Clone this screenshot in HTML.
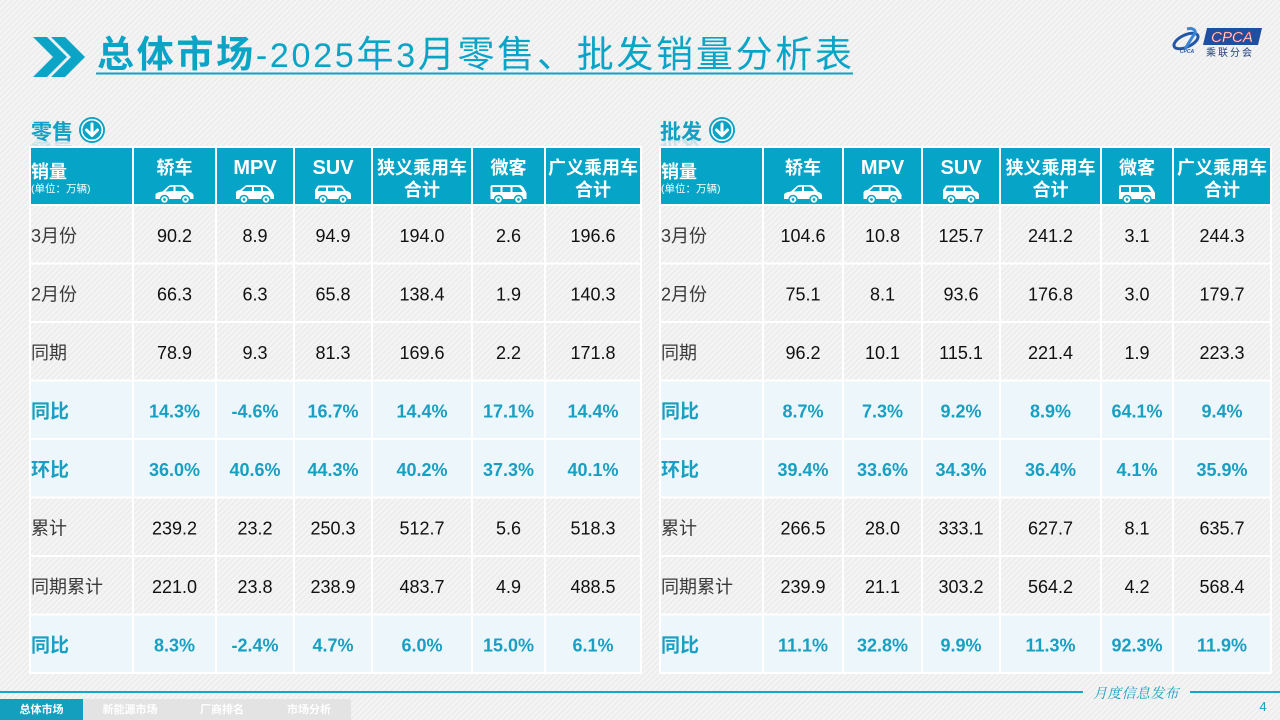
<!DOCTYPE html>
<html><head><meta charset="utf-8"><style>
html,body{margin:0;padding:0;width:1280px;height:720px;overflow:hidden;background:#f3f3f3;}
svg{display:block;}
text{font-family:"Liberation Sans","Noto Sans CJK SC",sans-serif;}
.n{font-size:18px;fill:#111;text-anchor:middle;}
.lb{font-size:18px;fill:#3a3a3a;}
.hn{font-size:18px;fill:#199fc2;font-weight:bold;text-anchor:middle;}
.hl{font-size:19px;fill:#199fc2;font-weight:bold;}
.hc{font-size:18px;fill:#fff;font-weight:bold;text-anchor:middle;}
.he{font-size:20px;fill:#fff;font-weight:bold;text-anchor:middle;}
.tab{font-size:11px;fill:#fff;font-weight:bold;text-anchor:middle;}
</style></head><body>
<svg width="1280" height="720" viewBox="0 0 1280 720" xmlns="http://www.w3.org/2000/svg">
<defs>
<pattern id="bg" width="4" height="4" patternUnits="userSpaceOnUse" patternTransform="rotate(45)">
<rect width="4" height="4" fill="#f4f4f4"/><rect width="1.4" height="4" fill="#ebebeb"/>
</pattern>
<g id="sedan"><path d="M1,15 L1,11 C1,9 4,8 8,7.5 L14,2 C15,1.3 17,1 19,1 L27,1 C30,1 32,4 35,8 C38,8.5 39,10 39,12 L39,15 Z" fill="#fff"/><path d="M15,3 L19,2.6 L19,7 L11,7.5 Z M21,2.6 L26,2.6 C28,3 30,5 31,7 L21,7 Z" fill="#06a5c7"/><circle cx="10" cy="15.5" r="4" fill="#fff" stroke="#06a5c7" stroke-width="1.5"/><circle cx="31" cy="15.5" r="4" fill="#fff" stroke="#06a5c7" stroke-width="1.5"/><circle cx="10" cy="15.5" r="1.4" fill="#06a5c7"/><circle cx="31" cy="15.5" r="1.4" fill="#06a5c7"/></g>
<g id="mpv"><path d="M1,15 L1,9 C1,7 3,6 5,6 L10,2 C11,1 12,1 14,1 L28,1 C32,1 36,5 38,9 L39,11 L39,15 Z" fill="#fff"/><path d="M11,3 L17,3 L17,7 L7,7 Z M19,3 L26,3 L26,7 L19,7 Z M28,3 C31,3 33,5 34,7 L28,7 Z" fill="#06a5c7"/><circle cx="9" cy="15.5" r="4" fill="#fff" stroke="#06a5c7" stroke-width="1.5"/><circle cx="31" cy="15.5" r="4" fill="#fff" stroke="#06a5c7" stroke-width="1.5"/><circle cx="9" cy="15.5" r="1.4" fill="#06a5c7"/><circle cx="31" cy="15.5" r="1.4" fill="#06a5c7"/></g>
<g id="suv"><path d="M2,15 L2,6 L5,1.5 L29,1.5 L33,7 C36,7 38,9 38,11 L38,15 Z" fill="#fff"/><path d="M6,3.5 L13,3.5 L13,7 L4.5,7 Z M15,3.5 L22,3.5 L22,7 L15,7 Z M24,3.5 L28,3.5 L31,7 L24,7 Z" fill="#06a5c7"/><circle cx="10" cy="15.5" r="4" fill="#fff" stroke="#06a5c7" stroke-width="1.5"/><circle cx="30" cy="15.5" r="4" fill="#fff" stroke="#06a5c7" stroke-width="1.5"/><circle cx="10" cy="15.5" r="1.4" fill="#06a5c7"/><circle cx="30" cy="15.5" r="1.4" fill="#06a5c7"/></g>
<g id="van"><path d="M2,15 L2,3 C2,1.5 3,1 5,1 L31,1 C34,1 36,5 38,9 L38,15 Z" fill="#fff"/><path d="M4,3 L12,3 L12,8 L4,8 Z M14,3 L22,3 L22,8 L14,8 Z M24,3 L30,3 C32,4 33,6 34,8 L24,8 Z" fill="#06a5c7"/><circle cx="10" cy="15.5" r="4" fill="#fff" stroke="#06a5c7" stroke-width="1.5"/><circle cx="30" cy="15.5" r="4" fill="#fff" stroke="#06a5c7" stroke-width="1.5"/><circle cx="10" cy="15.5" r="1.4" fill="#06a5c7"/><circle cx="30" cy="15.5" r="1.4" fill="#06a5c7"/></g>
<g id="arrow"><circle r="13" fill="#0aa3c6"/><circle r="10.3" fill="none" stroke="#fff" stroke-width="1.6"/><path d="M0,-6 L0,5 M-5.5,0 L0,5.5 L5.5,0" stroke="#fff" stroke-width="3" fill="none" stroke-linecap="round" stroke-linejoin="round"/></g>
<clipPath id="rf1"><rect x="0" y="139" width="1280" height="8"/></clipPath>
</defs>
<rect width="1280" height="720" fill="url(#bg)"/>

<!-- Title -->
<polygon points="33,37 47,37 67,57 47,77 33,77 53,57" fill="#0aa4c6"/>
<polygon points="51,37 65,37 85,57 65,77 51,77 71,57" fill="#0aa4c6"/>
<text x="97" y="67" fill="#0aa4c6" textLength="755" lengthAdjust="spacing"><tspan font-weight="bold" font-size="37">总体市场</tspan><tspan font-size="34">-2025</tspan><tspan font-size="37">年</tspan><tspan font-size="34">3</tspan><tspan font-size="37">月零售、批发销量分析表</tspan></text>
<rect x="96" y="72.5" width="757" height="2" fill="#0aa4c6"/>

<!-- Logo -->
<ellipse cx="1186" cy="41" rx="13" ry="6" transform="rotate(-25 1186 41)" fill="none" stroke="#2456a8" stroke-width="3"/>
<path d="M1187,29 C1194,27 1198,32 1193,36 L1185,49" stroke="#3a86d6" stroke-width="3" fill="none"/>
<text x="1187" y="53" font-size="5" font-style="italic" font-weight="bold" fill="#2456a8" text-anchor="middle">CPCA</text>
<polygon points="1207,28 1262,28 1258,45 1203,45" fill="#1f4fa0"/>
<text x="1232" y="42" font-size="15" font-style="italic" fill="#fff" stroke="#e04040" stroke-width="0.5" text-anchor="middle">CPCA</text>
<text x="1230" y="56" font-size="10" fill="#1f3f80" text-anchor="middle" letter-spacing="2">乘联分会</text>

<!-- Section labels -->
<text x="31" y="139" font-size="21" font-weight="bold" fill="#12a0c4">零售</text>
<g clip-path="url(#rf1)"><text x="31" y="139" font-size="21" font-weight="bold" fill="#12a0c4" opacity="0.18" transform="translate(0,278) scale(1,-1)">零售</text></g>
<use href="#arrow" x="92" y="130"/>
<text x="660" y="139" font-size="21" font-weight="bold" fill="#12a0c4">批发</text>
<g clip-path="url(#rf1)"><text x="660" y="139" font-size="21" font-weight="bold" fill="#12a0c4" opacity="0.18" transform="translate(0,278) scale(1,-1)">批发</text></g>
<use href="#arrow" x="722" y="130"/>

<!-- LEFT TABLE -->
<rect x="29" y="146" width="613" height="528" fill="#fff"/>
<g fill="#06a5c7">
<rect x="31" y="148" width="101" height="56"/><rect x="134" y="148" width="81" height="56"/><rect x="217" y="148" width="76" height="56"/><rect x="295" y="148" width="76" height="56"/><rect x="373" y="148" width="98" height="56"/><rect x="473" y="148" width="71" height="56"/><rect x="546" y="148" width="94" height="56"/>
</g>
<g fill="url(#bg)">
<rect x="31" y="206" width="609" height="56.5"/><rect x="31" y="264.5" width="609" height="56.5"/><rect x="31" y="323" width="609" height="56.5"/><rect x="31" y="498.5" width="609" height="56.5"/><rect x="31" y="557" width="609" height="56.5"/>
</g>
<g fill="#edf6fa">
<rect x="31" y="381.5" width="609" height="56.5"/><rect x="31" y="440" width="609" height="56.5"/><rect x="31" y="615.5" width="609" height="56.5"/>
</g>
<g fill="#fff">
<rect x="132" y="206" width="2" height="466"/><rect x="215" y="206" width="2" height="466"/><rect x="293" y="206" width="2" height="466"/><rect x="371" y="206" width="2" height="466"/><rect x="471" y="206" width="2" height="466"/><rect x="544" y="206" width="2" height="466"/>
<rect x="31" y="262.5" width="609" height="2"/><rect x="31" y="321" width="609" height="2"/><rect x="31" y="379.5" width="609" height="2"/><rect x="31" y="438" width="609" height="2"/><rect x="31" y="496.5" width="609" height="2"/><rect x="31" y="555" width="609" height="2"/><rect x="31" y="613.5" width="609" height="2"/>
</g>
<text x="31" y="178" font-size="18" font-weight="bold" fill="#fff">销量</text>
<text x="31" y="192" font-size="10.5" fill="#fff">(单位：万辆)</text>
<text class="hc" x="174.5" y="174">轿车</text><use href="#sedan" x="154.5" y="184"/>
<text class="he" x="255" y="174">MPV</text><use href="#mpv" x="235" y="184"/>
<text class="he" x="333" y="174">SUV</text><use href="#suv" x="313" y="184"/>
<text class="hc" x="422" y="174">狭义乘用车</text><text class="hc" x="422" y="196">合计</text>
<text class="hc" x="508.5" y="174">微客</text><use href="#van" x="488.5" y="184"/>
<text class="hc" x="593" y="174">广义乘用车</text><text class="hc" x="593" y="196">合计</text>

<text class="lb" x="31" y="242">3月份</text>
<text class="n" x="174.5" y="242">90.2</text><text class="n" x="255" y="242">8.9</text><text class="n" x="333" y="242">94.9</text><text class="n" x="422" y="242">194.0</text><text class="n" x="508.5" y="242">2.6</text><text class="n" x="593" y="242">196.6</text>
<text class="lb" x="31" y="300.5">2月份</text>
<text class="n" x="174.5" y="300.5">66.3</text><text class="n" x="255" y="300.5">6.3</text><text class="n" x="333" y="300.5">65.8</text><text class="n" x="422" y="300.5">138.4</text><text class="n" x="508.5" y="300.5">1.9</text><text class="n" x="593" y="300.5">140.3</text>
<text class="lb" x="31" y="359">同期</text>
<text class="n" x="174.5" y="359">78.9</text><text class="n" x="255" y="359">9.3</text><text class="n" x="333" y="359">81.3</text><text class="n" x="422" y="359">169.6</text><text class="n" x="508.5" y="359">2.2</text><text class="n" x="593" y="359">171.8</text>
<text class="hl" x="31" y="417.5">同比</text>
<text class="hn" x="174.5" y="417.5">14.3%</text><text class="hn" x="255" y="417.5">-4.6%</text><text class="hn" x="333" y="417.5">16.7%</text><text class="hn" x="422" y="417.5">14.4%</text><text class="hn" x="508.5" y="417.5">17.1%</text><text class="hn" x="593" y="417.5">14.4%</text>
<text class="hl" x="31" y="476">环比</text>
<text class="hn" x="174.5" y="476">36.0%</text><text class="hn" x="255" y="476">40.6%</text><text class="hn" x="333" y="476">44.3%</text><text class="hn" x="422" y="476">40.2%</text><text class="hn" x="508.5" y="476">37.3%</text><text class="hn" x="593" y="476">40.1%</text>
<text class="lb" x="31" y="534.5">累计</text>
<text class="n" x="174.5" y="534.5">239.2</text><text class="n" x="255" y="534.5">23.2</text><text class="n" x="333" y="534.5">250.3</text><text class="n" x="422" y="534.5">512.7</text><text class="n" x="508.5" y="534.5">5.6</text><text class="n" x="593" y="534.5">518.3</text>
<text class="lb" x="31" y="593">同期累计</text>
<text class="n" x="174.5" y="593">221.0</text><text class="n" x="255" y="593">23.8</text><text class="n" x="333" y="593">238.9</text><text class="n" x="422" y="593">483.7</text><text class="n" x="508.5" y="593">4.9</text><text class="n" x="593" y="593">488.5</text>
<text class="hl" x="31" y="651.5">同比</text>
<text class="hn" x="174.5" y="651.5">8.3%</text><text class="hn" x="255" y="651.5">-2.4%</text><text class="hn" x="333" y="651.5">4.7%</text><text class="hn" x="422" y="651.5">6.0%</text><text class="hn" x="508.5" y="651.5">15.0%</text><text class="hn" x="593" y="651.5">6.1%</text>

<!-- RIGHT TABLE -->
<rect x="659" y="146" width="613" height="528" fill="#fff"/>
<g fill="#06a5c7">
<rect x="661" y="148" width="101" height="56"/><rect x="764" y="148" width="78" height="56"/><rect x="844" y="148" width="77" height="56"/><rect x="923" y="148" width="76" height="56"/><rect x="1001" y="148" width="99" height="56"/><rect x="1102" y="148" width="70" height="56"/><rect x="1174" y="148" width="96" height="56"/>
</g>
<g fill="url(#bg)">
<rect x="661" y="206" width="609" height="56.5"/><rect x="661" y="264.5" width="609" height="56.5"/><rect x="661" y="323" width="609" height="56.5"/><rect x="661" y="498.5" width="609" height="56.5"/><rect x="661" y="557" width="609" height="56.5"/>
</g>
<g fill="#edf6fa">
<rect x="661" y="381.5" width="609" height="56.5"/><rect x="661" y="440" width="609" height="56.5"/><rect x="661" y="615.5" width="609" height="56.5"/>
</g>
<g fill="#fff">
<rect x="762" y="206" width="2" height="466"/><rect x="842" y="206" width="2" height="466"/><rect x="921" y="206" width="2" height="466"/><rect x="999" y="206" width="2" height="466"/><rect x="1100" y="206" width="2" height="466"/><rect x="1172" y="206" width="2" height="466"/>
<rect x="661" y="262.5" width="609" height="2"/><rect x="661" y="321" width="609" height="2"/><rect x="661" y="379.5" width="609" height="2"/><rect x="661" y="438" width="609" height="2"/><rect x="661" y="496.5" width="609" height="2"/><rect x="661" y="555" width="609" height="2"/><rect x="661" y="613.5" width="609" height="2"/>
</g>
<text x="661" y="178" font-size="18" font-weight="bold" fill="#fff">销量</text>
<text x="661" y="192" font-size="10.5" fill="#fff">(单位：万辆)</text>
<text class="hc" x="803" y="174">轿车</text><use href="#sedan" x="783" y="184"/>
<text class="he" x="882.5" y="174">MPV</text><use href="#mpv" x="862.5" y="184"/>
<text class="he" x="961" y="174">SUV</text><use href="#suv" x="941" y="184"/>
<text class="hc" x="1050.5" y="174">狭义乘用车</text><text class="hc" x="1050.5" y="196">合计</text>
<text class="hc" x="1137" y="174">微客</text><use href="#van" x="1117" y="184"/>
<text class="hc" x="1222" y="174">广义乘用车</text><text class="hc" x="1222" y="196">合计</text>

<text class="lb" x="661" y="242">3月份</text>
<text class="n" x="803" y="242">104.6</text><text class="n" x="882.5" y="242">10.8</text><text class="n" x="961" y="242">125.7</text><text class="n" x="1050.5" y="242">241.2</text><text class="n" x="1137" y="242">3.1</text><text class="n" x="1222" y="242">244.3</text>
<text class="lb" x="661" y="300.5">2月份</text>
<text class="n" x="803" y="300.5">75.1</text><text class="n" x="882.5" y="300.5">8.1</text><text class="n" x="961" y="300.5">93.6</text><text class="n" x="1050.5" y="300.5">176.8</text><text class="n" x="1137" y="300.5">3.0</text><text class="n" x="1222" y="300.5">179.7</text>
<text class="lb" x="661" y="359">同期</text>
<text class="n" x="803" y="359">96.2</text><text class="n" x="882.5" y="359">10.1</text><text class="n" x="961" y="359">115.1</text><text class="n" x="1050.5" y="359">221.4</text><text class="n" x="1137" y="359">1.9</text><text class="n" x="1222" y="359">223.3</text>
<text class="hl" x="661" y="417.5">同比</text>
<text class="hn" x="803" y="417.5">8.7%</text><text class="hn" x="882.5" y="417.5">7.3%</text><text class="hn" x="961" y="417.5">9.2%</text><text class="hn" x="1050.5" y="417.5">8.9%</text><text class="hn" x="1137" y="417.5">64.1%</text><text class="hn" x="1222" y="417.5">9.4%</text>
<text class="hl" x="661" y="476">环比</text>
<text class="hn" x="803" y="476">39.4%</text><text class="hn" x="882.5" y="476">33.6%</text><text class="hn" x="961" y="476">34.3%</text><text class="hn" x="1050.5" y="476">36.4%</text><text class="hn" x="1137" y="476">4.1%</text><text class="hn" x="1222" y="476">35.9%</text>
<text class="lb" x="661" y="534.5">累计</text>
<text class="n" x="803" y="534.5">266.5</text><text class="n" x="882.5" y="534.5">28.0</text><text class="n" x="961" y="534.5">333.1</text><text class="n" x="1050.5" y="534.5">627.7</text><text class="n" x="1137" y="534.5">8.1</text><text class="n" x="1222" y="534.5">635.7</text>
<text class="lb" x="661" y="593">同期累计</text>
<text class="n" x="803" y="593">239.9</text><text class="n" x="882.5" y="593">21.1</text><text class="n" x="961" y="593">303.2</text><text class="n" x="1050.5" y="593">564.2</text><text class="n" x="1137" y="593">4.2</text><text class="n" x="1222" y="593">568.4</text>
<text class="hl" x="661" y="651.5">同比</text>
<text class="hn" x="803" y="651.5">11.1%</text><text class="hn" x="882.5" y="651.5">32.8%</text><text class="hn" x="961" y="651.5">9.9%</text><text class="hn" x="1050.5" y="651.5">11.3%</text><text class="hn" x="1137" y="651.5">92.3%</text><text class="hn" x="1222" y="651.5">11.9%</text>

<!-- Footer -->
<rect x="0" y="691" width="1083" height="2" fill="#14a8c8"/>
<rect x="1190" y="691" width="90" height="2" fill="#14a8c8"/>
<text x="1093" y="698" font-size="14" font-style="italic" fill="#1aa0c0" style="font-family:'Noto Serif CJK SC','Liberation Serif',serif" letter-spacing="0.3">月度信息发布</text>
<text x="1263" y="711" font-size="13" fill="#1aa0c0" text-anchor="middle">4</text>
<rect x="0" y="699" width="83" height="21" fill="#159fbf"/>
<rect x="83" y="699" width="268" height="21" fill="#e3e3e3"/>
<text class="tab" x="41.5" y="713">总体市场</text>
<text class="tab" x="130" y="713">新能源市场</text>
<text class="tab" x="222" y="713">厂商排名</text>
<text class="tab" x="309" y="713">市场分析</text>
</svg>
</body></html>
